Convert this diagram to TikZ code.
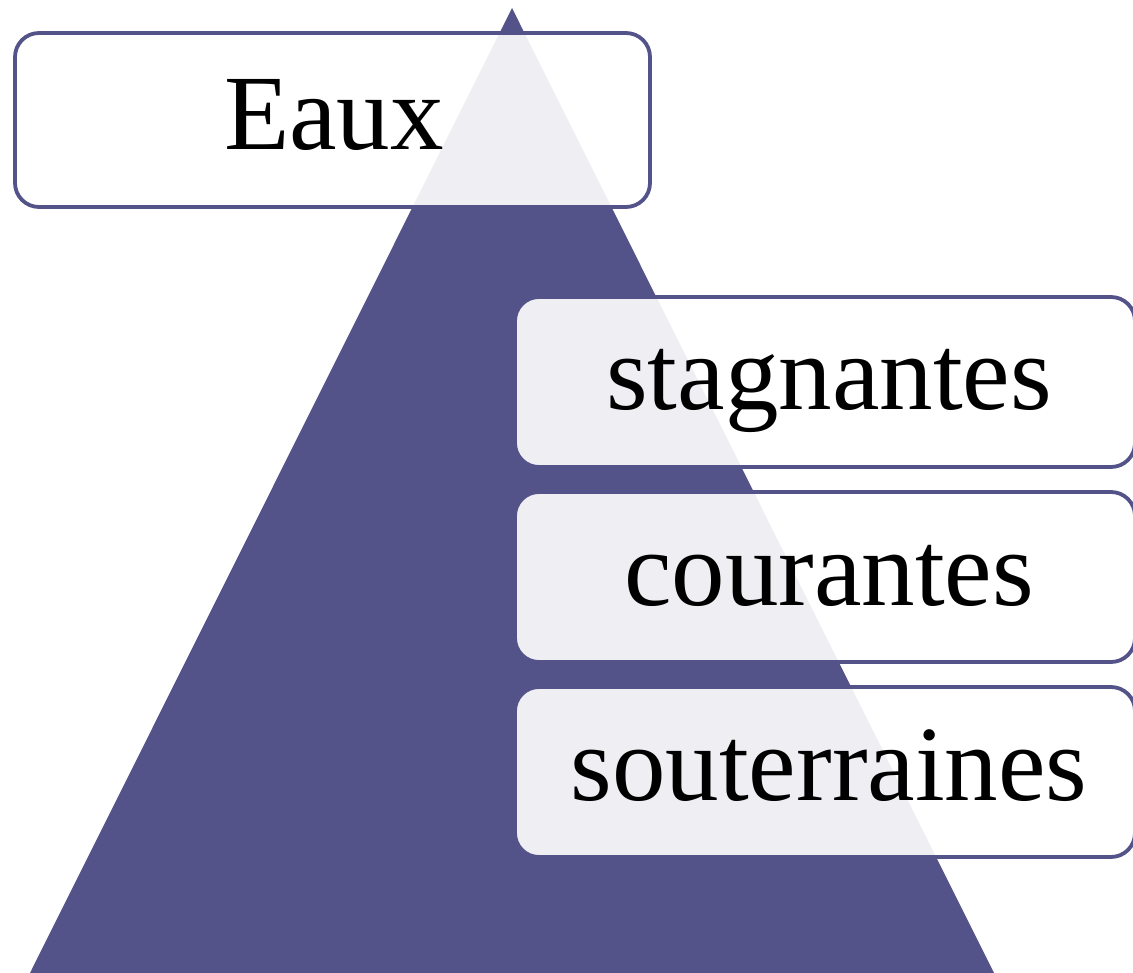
\documentclass[tikz,border=0pt]{standalone}
\usepackage{fontspec}
\setmainfont{Liberation Serif}
\definecolor{pyr}{HTML}{545389}
\tikzset{
  lbl/.style={draw=pyr, line width=3.8pt, rounded corners=24pt, fill=white, fill opacity=0.9,
    inner sep=0pt},
  txt/.style={anchor=base, inner sep=0pt, font=\fontsize{107}{120}\selectfont},
}
\begin{document}
\begin{tikzpicture}[x=1pt,y=-1pt]
\useasboundingbox (0,0) rectangle (1133,973);
\clip (0,0) rectangle (1133,973);
\fill[pyr] (512,8) -- (995,975) -- (29,975) -- cycle;
\node[lbl, minimum width=635pt, minimum height=174pt] (eaux) at (332.5,120) {};
\node[lbl, minimum width=620pt, minimum height=170pt] (stag) at (825,382) {};
\node[lbl, minimum width=620pt, minimum height=170pt] (cour) at (825,577) {};
\node[lbl, minimum width=620pt, minimum height=170pt] (sout) at (825,772) {};
\node[txt] (teaux) at (334,150) {Eaux};
\node[txt] (tstag) at (829,410) {stagnantes};
\node[txt] (tcour) at (829,605) {courantes};
\node[txt] (tsout) at (829,800) {souterraines};
\end{tikzpicture}
\end{document}
